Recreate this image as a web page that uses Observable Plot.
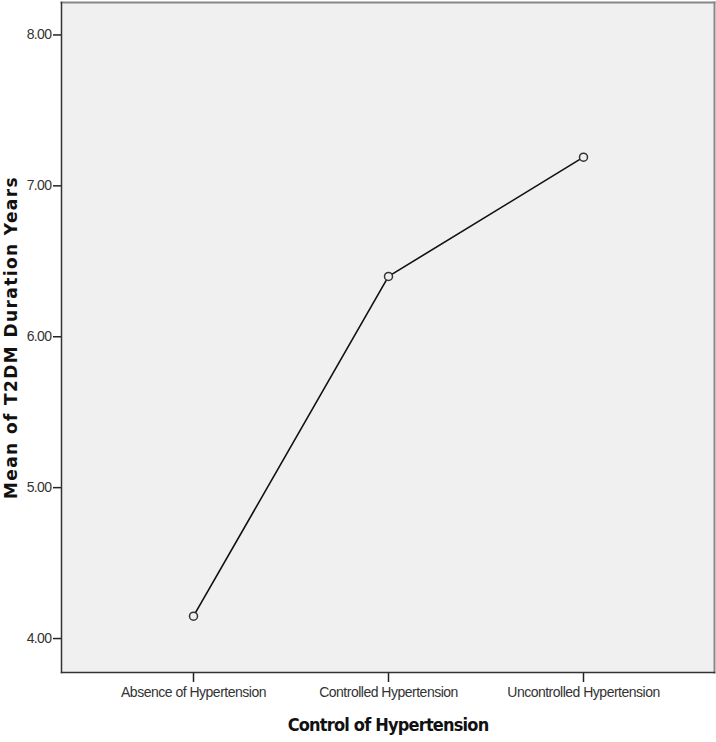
<!DOCTYPE html>
<html>
<head>
<meta charset="utf-8">
<script src="https://cdn.jsdelivr.net/npm/d3@7"></script>
<script src="https://cdn.jsdelivr.net/npm/@observablehq/plot@0.6"></script>
<style>
  html, body { margin: 0; padding: 0; background: #fff; }
  #chart svg { display: block; }
</style>
</head>
<body>
<div id="chart"></div>
<script>
const categories = ["Absence of Hypertension", "Controlled Hypertension", "Uncontrolled Hypertension"];
const means = [4.148, 6.40, 7.19];
const yTicks = [4, 5, 6, 7, 8];
const xTitle = "Control of Hypertension";
const yTitle = "Mean of T2DM Duration Years";

const data = categories.map((c, i) => ({category: c, mean: means[i]}));

const tickFont = "'Liberation Sans', Arial, sans-serif";

const chart = Plot.plot({
  width: 716,
  height: 742,
  marginLeft: 61,
  marginRight: 2,
  marginTop: 2,
  marginBottom: 70,
  style: {background: "#fff", color: "#222"},
  x: {type: "point", domain: categories, padding: 0.667},
  y: {domain: [3.775, 8.215]},
  marks: [
    Plot.frame({fill: "#f0f0f0", stroke: null}),
    Plot.axisY({
      ticks: yTicks, tickSize: 8, tickPadding: 2, tickFormat: d3.format(".2f"),
      label: null, fontSize: 14, fontFamily: tickFont, stroke: "#222", strokeWidth: 1.5, fill: "#333"
    }),
    Plot.axisX({
      tickSize: 10, tickPadding: 5, label: null,
      fontSize: 14, fontFamily: tickFont, stroke: "#222", strokeWidth: 1.5, fill: "#333"
    }),
    Plot.frame({anchor: "top", stroke: "#888", strokeWidth: 2}),
    Plot.frame({anchor: "right", stroke: "#888", strokeWidth: 2}),
    Plot.frame({anchor: "left", stroke: "#333", strokeWidth: 1.5}),
    Plot.frame({anchor: "bottom", stroke: "#333", strokeWidth: 1.5}),
    Plot.line(data, {x: "category", y: "mean", stroke: "#111", strokeWidth: 1.6}),
    Plot.dot(data, {x: "category", y: "mean", r: 4, stroke: "#333", strokeWidth: 1.5, fill: "#f0f0f0"}),
    Plot.text([yTitle], {
      frameAnchor: "left", dx: -50, rotate: -90, text: d => d, textAnchor: "middle",
      fontSize: 17, fontWeight: "bold", fontFamily: "'DejaVu Sans', Verdana, sans-serif", fill: "#111"
    }),
    Plot.text([xTitle], {
      frameAnchor: "bottom", dy: 58, text: d => d, textAnchor: "middle",
      fontSize: 18, fontWeight: "bold", fontFamily: "'DejaVu Sans Condensed', 'Liberation Sans Narrow', sans-serif", fill: "#111"
    })
  ]
});
const svg = d3.select(chart);
svg.selectAll('g[aria-label="x-axis tick label"]').style("letter-spacing", "-0.5px");
svg.selectAll('g[aria-label="y-axis tick label"]').style("letter-spacing", "-0.6px");
svg.selectAll("text").each(function() {
  const t = this.textContent;
  if (t === yTitle) d3.select(this).style("letter-spacing", "1.4px");
  if (t === xTitle) d3.select(this).style("letter-spacing", "-0.8px");
});
document.getElementById("chart").appendChild(chart);
</script>
</body>
</html>
